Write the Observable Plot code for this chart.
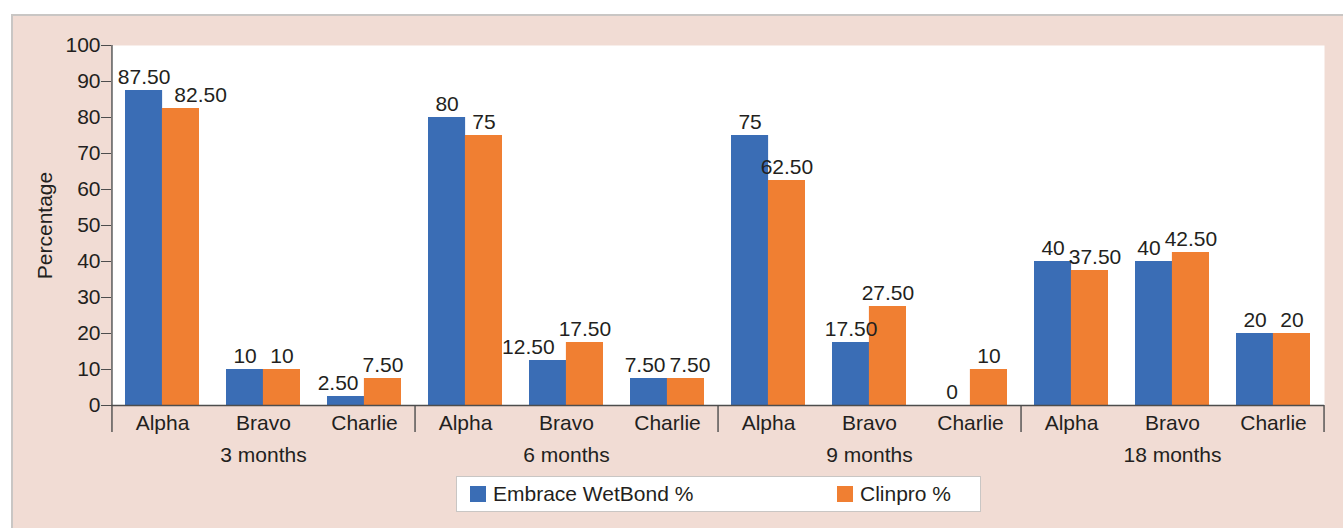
<!DOCTYPE html>
<html>
<head>
<meta charset="utf-8">
<script src="https://cdn.jsdelivr.net/npm/d3@7"></script>
<script src="https://cdn.jsdelivr.net/npm/@observablehq/plot@0.6"></script>
<style>
  html, body { margin: 0; padding: 0; background: #fff; width: 1343px; height: 528px; overflow: hidden; }
  body { position: relative; font-family: "Liberation Sans", Arial, sans-serif; }
  #panel { position: absolute; left: 11px; top: 14px; width: 1332px; height: 514px; background: #f1dcd4;
           border-top: 2px solid #c9c6c4; border-left: 2px solid #c9c6c4; box-sizing: border-box; }
  #chart { position: absolute; left: 0; top: 0; }
  #legend { position: absolute; left: 456px; top: 476px; width: 525px; height: 36px; box-sizing: border-box;
            background: #fff; border: 1px solid #c9c6c4; font-size: 21px; color: #231f20; }
  .item { position: absolute; top: 0; height: 34px; display: flex; align-items: center; }
  .sw { width: 16px; height: 16px; margin-right: 7px; }
</style>
</head>
<body>
<div id="panel"></div>
<div id="chart"></div>
<div id="legend"></div>
<script>
const periods = ["3 months", "6 months", "9 months", "18 months"];
const categories = ["Alpha", "Bravo", "Charlie"];
const seriesNames = ["Embrace WetBond %", "Clinpro %"];
const seriesColors = ["#3a6db5", "#f07f32"];
// values in order: period x category
const embrace = [87.5, 10, 2.5, 80, 12.5, 7.5, 75, 17.5, 0, 40, 40, 20];
const clinpro = [82.5, 10, 7.5, 75, 17.5, 7.5, 62.5, 27.5, 10, 37.5, 42.5, 20];
const yTicks = [0, 10, 20, 30, 40, 50, 60, 70, 80, 90, 100];

const W = 1343, H = 528;
const mL = 111, mR = 19, mT = 45, mB = 123;
const pad = 0.27;
const step = (W - mL - mR) / 12;
const bw = step * (1 - pad);

const keys = [];
periods.forEach(p => categories.forEach(c => keys.push(p + "|" + c)));
const fmt = v => Number.isInteger(v) ? String(v) : v.toFixed(2);
const sepKeys = periods.map(p => p + "|Charlie");
const ink = "#231f20";
const axisCol = "#4d4d4d";
const pxPerUnit = (H - mT - mB) / 100;
const FS = 21;
const textW = s => [...s].reduce((a, ch) => a + (ch === "." ? 0.278 : 0.556) * FS, 0);

// value labels: centered over each bar, nudged apart when the pair collides
const labelMarks = [];
keys.forEach((k, i) => {
  const vE = embrace[i], vC = clinpro[i];
  const sE = fmt(vE), sC = fmt(vC);
  let dxE = -bw / 4, dxC = bw / 4;
  const vertGap = Math.abs(vE - vC) * pxPerUnit;
  if (vertGap < 21) {
    const overlap = (dxE + textW(sE) / 2) - (dxC - textW(sC) / 2) + 4;
    if (overlap > 0) {
      if (vE === vC) { dxE -= overlap / 2; dxC += overlap / 2; }
      else if (vE > vC) dxC += overlap;
      else dxE -= overlap;
    }
  }
  const common = {x: "key", y: "v", text: d => fmt(d.v), fill: ink, fontSize: FS, lineAnchor: "bottom", dy: -7};
  labelMarks.push(Plot.text([{key: k, v: vE}], {...common, dx: dxE}));
  labelMarks.push(Plot.text([{key: k, v: vC}], {...common, dx: dxC}));
});

const rowsE = keys.map((k, i) => ({key: k, v: embrace[i]}));
const rowsC = keys.map((k, i) => ({key: k, v: clinpro[i]}));

const chart = Plot.plot({
  width: W, height: H,
  marginLeft: mL, marginRight: mR, marginTop: mT, marginBottom: mB,
  style: {background: "transparent", fontFamily: "'Liberation Sans', Arial, sans-serif", fontSize: FS + "px", color: ink},
  x: {domain: keys, paddingInner: pad, paddingOuter: pad / 2, axis: null},
  y: {domain: [0, 100], axis: null},
  marks: [
    Plot.frame({fill: "white", stroke: null}),
    Plot.barY(rowsE, {x: "key", y: "v", fill: seriesColors[0], insetRight: bw / 2}),
    Plot.barY(rowsC, {x: "key", y: "v", fill: seriesColors[1], insetLeft: bw / 2}),
    ...labelMarks,
    // y axis
    Plot.axisY({ticks: yTicks, tickSize: 10, tickPadding: 1, fontSize: FS, stroke: axisCol, color: ink, label: null}),
    Plot.ruleX([keys[0]], {y1: 100, y2: -27 / pxPerUnit, stroke: axisCol, strokeWidth: 1.4, dx: -step / 2}),
    Plot.ruleY([0], {stroke: axisCol, strokeWidth: 1.4}),
    Plot.ruleX(sepKeys, {y1: 0, y2: -27 / pxPerUnit, stroke: axisCol, strokeWidth: 1.4, dx: step / 2}),
    // category labels
    Plot.text(keys, {x: d => d, y: 0, text: d => d.split("|")[1], dy: 18, fill: ink, fontSize: FS}),
    // period labels
    Plot.text(periods, {x: d => d + "|Bravo", y: 0, text: d => d, dy: 50, fill: ink, fontSize: FS}),
    // y label
    Plot.text(["Percentage"], {frameAnchor: "left", textAnchor: "middle", text: d => d, rotate: -90, dx: -66, fill: ink, fontSize: FS})
  ]
});
document.getElementById("chart").appendChild(chart);

const legend = document.getElementById("legend");
const legendX = [13, 380];
seriesNames.forEach((name, i) => {
  const it = document.createElement("div");
  it.className = "item";
  it.style.left = legendX[i] + "px";
  const sw = document.createElement("span");
  sw.className = "sw";
  sw.style.background = seriesColors[i];
  const tx = document.createElement("span");
  tx.textContent = name;
  it.appendChild(sw);
  it.appendChild(tx);
  legend.appendChild(it);
});
</script>
</body>
</html>
